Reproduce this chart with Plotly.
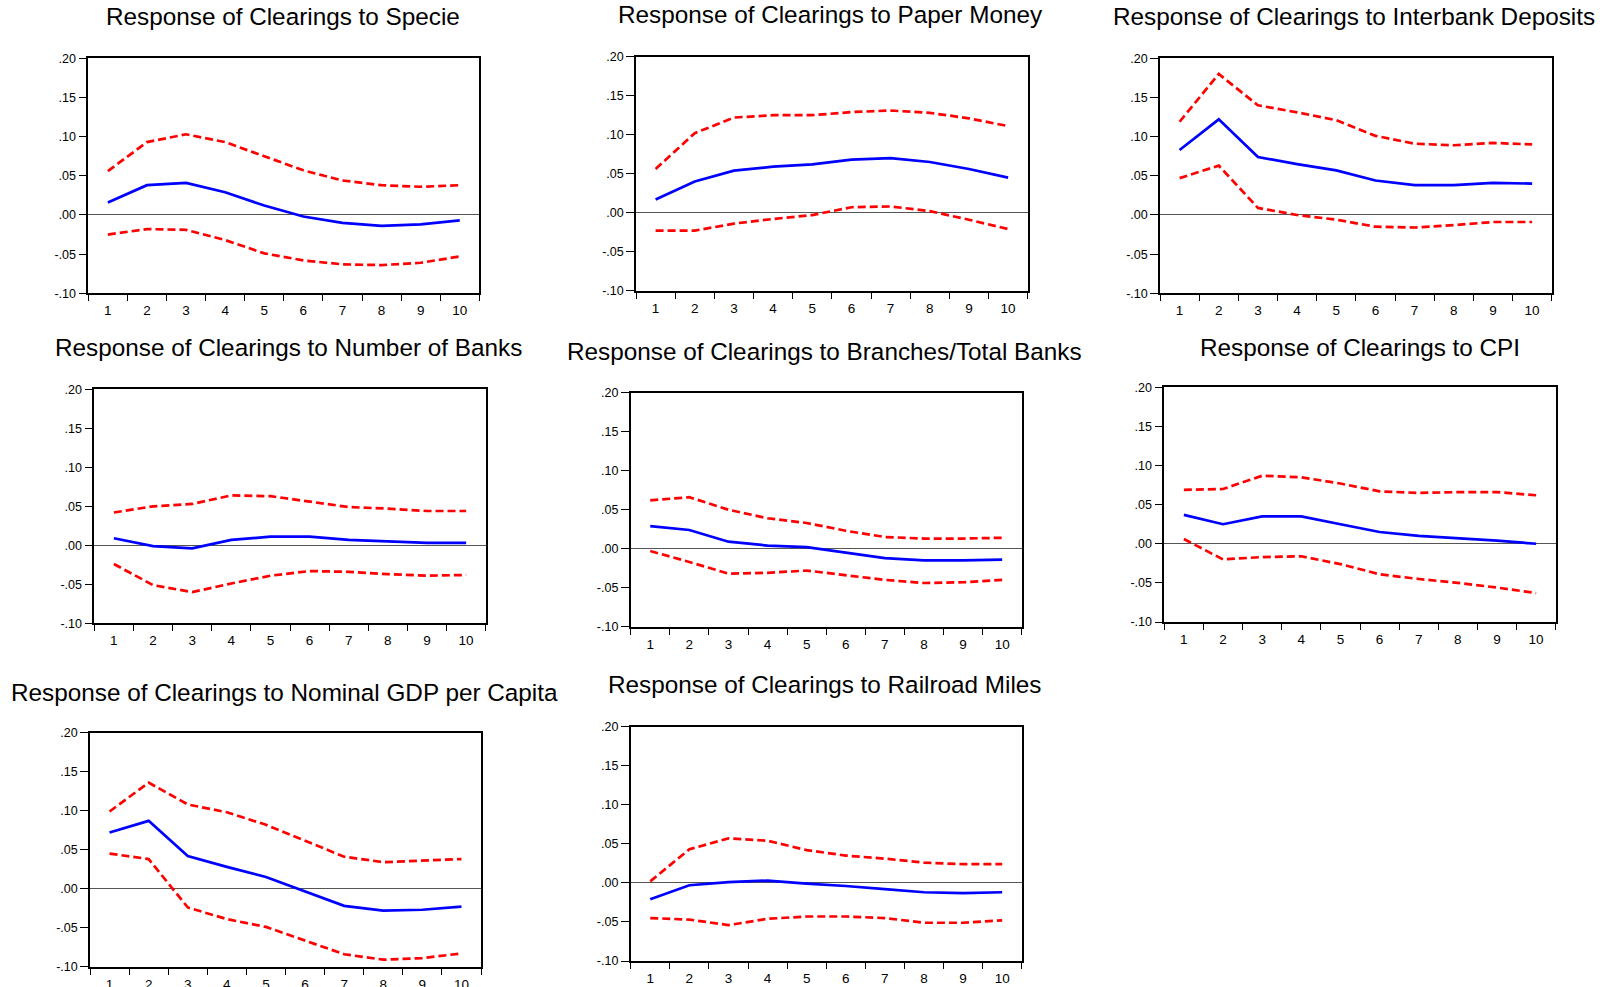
import plotly.graph_objects as go

W, H = 1604, 987

horizons = ["1", "2", "3", "4", "5", "6", "7", "8", "9", "10"]
y_tickvals = [0.20, 0.15, 0.10, 0.05, 0.00, -0.05, -0.10]
y_ticktext = [".20", ".15", ".10", ".05", ".00", "-.05", "-.10"]

titles = [
    "Response of Clearings to Specie",
    "Response of Clearings to Paper Money",
    "Response of Clearings to Interbank Deposits",
    "Response of Clearings to Number of Banks",
    "Response of Clearings to Branches/Total Banks",
    "Response of Clearings to CPI",
    "Response of Clearings to Nominal GDP per Capita",
    "Response of Clearings to Railroad Miles",
]

specie_resp = [0.016, 0.038, 0.041, 0.029, 0.012, -0.002, -0.010, -0.014, -0.012, -0.007]
specie_up = [0.056, 0.093, 0.103, 0.093, 0.075, 0.057, 0.044, 0.038, 0.036, 0.038]
specie_lo = [-0.025, -0.018, -0.019, -0.032, -0.049, -0.058, -0.063, -0.064, -0.061, -0.053]

paper_resp = [0.017, 0.040, 0.054, 0.059, 0.062, 0.068, 0.070, 0.065, 0.056, 0.045]
paper_up = [0.056, 0.102, 0.122, 0.125, 0.125, 0.129, 0.131, 0.128, 0.121, 0.111]
paper_lo = [-0.023, -0.023, -0.014, -0.008, -0.003, 0.007, 0.008, 0.002, -0.009, -0.021]

interbank_resp = [0.083, 0.122, 0.074, 0.065, 0.057, 0.044, 0.038, 0.038, 0.041, 0.040]
interbank_up = [0.119, 0.180, 0.140, 0.131, 0.121, 0.101, 0.091, 0.089, 0.092, 0.090]
interbank_lo = [0.047, 0.063, 0.009, 0.000, -0.006, -0.015, -0.016, -0.013, -0.009, -0.009]

banks_resp = [0.009, -0.001, -0.004, 0.007, 0.011, 0.011, 0.007, 0.005, 0.003, 0.003]
banks_up = [0.042, 0.050, 0.053, 0.064, 0.063, 0.056, 0.049, 0.047, 0.044, 0.044]
banks_lo = [-0.024, -0.051, -0.060, -0.049, -0.039, -0.033, -0.034, -0.037, -0.039, -0.038]

branches_resp = [0.029, 0.024, 0.009, 0.004, 0.002, -0.005, -0.012, -0.015, -0.015, -0.014]
branches_up = [0.062, 0.066, 0.050, 0.039, 0.033, 0.023, 0.015, 0.013, 0.013, 0.014]
branches_lo = [-0.003, -0.017, -0.032, -0.031, -0.028, -0.034, -0.040, -0.044, -0.043, -0.040]

cpi_resp = [0.037, 0.025, 0.035, 0.035, 0.025, 0.015, 0.010, 0.007, 0.004, 0.000]
cpi_up = [0.069, 0.070, 0.087, 0.085, 0.077, 0.067, 0.065, 0.066, 0.066, 0.062]
cpi_lo = [0.006, -0.020, -0.017, -0.016, -0.026, -0.039, -0.045, -0.050, -0.056, -0.063]

gdp_resp = [0.072, 0.087, 0.042, 0.028, 0.015, -0.003, -0.022, -0.028, -0.027, -0.023]
gdp_up = [0.099, 0.136, 0.108, 0.098, 0.082, 0.061, 0.041, 0.034, 0.036, 0.038]
gdp_lo = [0.045, 0.038, -0.024, -0.039, -0.049, -0.066, -0.084, -0.091, -0.089, -0.083]

rail_resp = [-0.021, -0.003, 0.001, 0.003, -0.001, -0.004, -0.008, -0.012, -0.013, -0.012]
rail_up = [0.002, 0.043, 0.057, 0.054, 0.042, 0.035, 0.031, 0.026, 0.024, 0.024]
rail_lo = [-0.045, -0.047, -0.054, -0.046, -0.043, -0.043, -0.045, -0.051, -0.051, -0.048]

series = [
    (specie_resp, specie_up, specie_lo),
    (paper_resp, paper_up, paper_lo),
    (interbank_resp, interbank_up, interbank_lo),
    (banks_resp, banks_up, banks_lo),
    (branches_resp, branches_up, branches_lo),
    (cpi_resp, cpi_up, cpi_lo),
    (gdp_resp, gdp_up, gdp_lo),
    (rail_resp, rail_up, rail_lo),
]

# panel frames in pixels: left, right, top, bottom
frames = [
    (88.3, 479.3, 58.3, 293.3),
    (636.0, 1027.7, 56.7, 290.7),
    (1160.0, 1551.7, 58.3, 293.3),
    (94.3, 485.7, 389.3, 623.3),
    (630.7, 1021.7, 392.7, 626.7),
    (1164.3, 1555.7, 387.3, 622.0),
    (90.0, 481.0, 732.7, 966.7),
    (630.7, 1021.7, 726.7, 961.0),
]
title_pos = [
    (283, 17), (830, 14), (1354, 17),
    (288, 347.5), (824, 351), (1360, 347),
    (284, 692.5), (825, 684),
]

FONT = "Liberation Sans, Arial, sans-serif"
fig = go.Figure()
layout = dict(
    width=W, height=H, margin=dict(l=0, r=0, t=0, b=0, autoexpand=False),
    paper_bgcolor="white", plot_bgcolor="white", showlegend=False,
    font=dict(family=FONT, color="black", size=12),
)
annotations = []
for i, ((resp, up, lo), (l, r, t, b), (tx, ty), title) in enumerate(zip(series, frames, title_pos, titles)):
    n = i + 1
    xa = "x" if n == 1 else f"x{n}"
    ya = "y" if n == 1 else f"y{n}"
    for vals, color, dash in ((up, "#FF0000", "8px,4px"), (lo, "#FF0000", "8px,4px"), (resp, "#0000FF", "solid")):
        fig.add_trace(go.Scatter(x=horizons, y=vals, mode="lines", xaxis=xa, yaxis=ya,
                                 line=dict(color=color, width=2.7, dash=dash), hoverinfo="skip"))
    xkey = "xaxis" if n == 1 else f"xaxis{n}"
    ykey = "yaxis" if n == 1 else f"yaxis{n}"
    layout[xkey] = dict(
        domain=[l / W, r / W], anchor=ya, type="category", tickson="boundaries",
        ticks="outside", ticklen=6, tickwidth=1.3, tickcolor="black",
        showline=True, linecolor="black", linewidth=1.6, mirror=True,
        showgrid=False, zeroline=False, tickfont=dict(size=13.5, family=FONT),
        ticklabelstandoff=4,
        range=[-0.5, 9.5], fixedrange=True, automargin=False,
    )
    layout[ykey] = dict(
        domain=[1 - b / H, 1 - t / H], anchor=xa, range=[-0.10, 0.20],
        tickvals=y_tickvals, ticktext=y_ticktext,
        ticks="outside", ticklen=8, tickwidth=1.3, tickcolor="black",
        showline=True, linecolor="black", linewidth=1.6, mirror=True,
        showgrid=False, zeroline=True, zerolinecolor="#555555", zerolinewidth=1,
        tickfont=dict(size=12.5, family=FONT), fixedrange=True, automargin=False,
    )
    annotations.append(dict(
        text=title, x=tx / W, y=1 - ty / H, xref="paper", yref="paper",
        xanchor="center", yanchor="middle", showarrow=False,
        font=dict(size=24.3, family=FONT, color="black"),
    ))
layout["annotations"] = annotations
fig.update_layout(**layout)
fig.write_html(
    "out.html",
    config={"displayModeBar": False, "responsive": False},
    post_script="document.body.style.margin='0';document.body.style.overflow='hidden';",
)
